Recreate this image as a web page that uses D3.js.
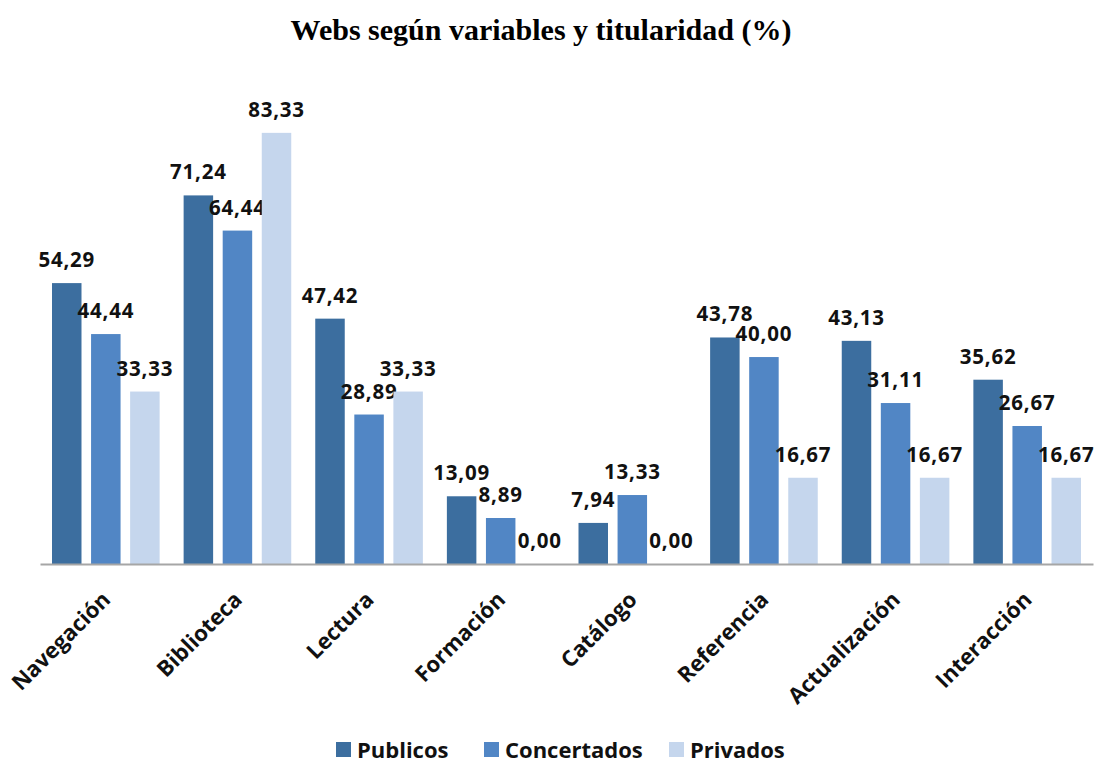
<!DOCTYPE html>
<html><head><meta charset="utf-8">
<script src="https://cdn.jsdelivr.net/npm/d3@7"></script>
<style>body{margin:0;background:#fff}</style>
</head><body>
<svg id="c" width="1105" height="763"></svg>
<script>
const categories = ["Navegación","Biblioteca","Lectura","Formación","Catálogo","Referencia","Actualización","Interacción"];
const seriesNames = ["Publicos","Concertados","Privados"];
const publicos    = [54.29, 71.24, 47.42, 13.09, 7.94, 43.78, 43.13, 35.62];
const concertados = [44.44, 64.44, 28.89, 8.89, 13.33, 40.00, 31.11, 26.67];
const privados    = [33.33, 83.33, 33.33, 0.00, 0.00, 16.67, 16.67, 16.67];
const colors = ["#3C6E9F","#5186C5","#C5D6ED"];
const title = "Webs según variables y titularidad (%)";

const series = [publicos, concertados, privados];
const svg = d3.select("#c");
const font = "'Open Sans', sans-serif";

const x0 = d3.scaleBand().domain(categories).range([40, 1093]).paddingInner(0).paddingOuter(0);
const x1 = d3.scaleBand().domain(seriesNames).range([12, x0.bandwidth()-12]).paddingInner(0.245).paddingOuter(0);
const y = d3.scaleLinear().domain([0, 100]).range([564, 46.6]);

svg.append("text").attr("x", 541).attr("y", 40).attr("text-anchor","middle")
  .attr("font-family","'Liberation Serif', 'Times New Roman', serif").attr("font-weight","bold")
  .attr("font-size", 30).attr("fill","#000").text(title);

const g = svg.append("g");
categories.forEach((cat, i) => {
  seriesNames.forEach((s, j) => {
    const v = series[j][i];
    const bx = x0(cat) + x1(s);
    g.append("rect").attr("x", bx).attr("y", y(v)).attr("width", x1.bandwidth())
      .attr("height", y(0) - y(v)).attr("fill", colors[j]);
    g.append("text").attr("x", bx + x1.bandwidth()/2).attr("y", y(v) - 16)
      .attr("text-anchor","middle").attr("font-family", font).attr("font-weight","bold")
      .attr("font-size", 20.5).attr("letter-spacing", 0.8).attr("fill","#111")
      .text(d3.format(".2f")(v).replace(".", ","));
  });
});

// axis
const axis = d3.axisBottom(x0).tickSize(0).tickPadding(0);
const ax = svg.append("g").attr("transform", `translate(0,${y(0)})`).call(axis);
ax.select(".domain").attr("stroke","#A6A6A6").attr("stroke-width",2);
ax.selectAll(".tick text")
  .attr("font-family", font).attr("font-weight","bold").attr("font-size", 22).attr("fill","#111")
  .attr("text-anchor","end").attr("dy", 0)
  .attr("transform","translate(6,37) rotate(-45)");

// legend
const legendItems = [{x:336, t:seriesNames[0]},{x:484, t:seriesNames[1]},{x:669, t:seriesNames[2]}];
legendItems.forEach((d, j) => {
  svg.append("rect").attr("x", d.x).attr("y", 742).attr("width", 15).attr("height", 15).attr("fill", colors[j]);
  svg.append("text").attr("x", d.x + 21).attr("y", 758).attr("font-family", font).attr("font-weight","bold")
    .attr("font-size", 22).attr("fill","#111").text(d.t);
});
</script>
</body></html>
